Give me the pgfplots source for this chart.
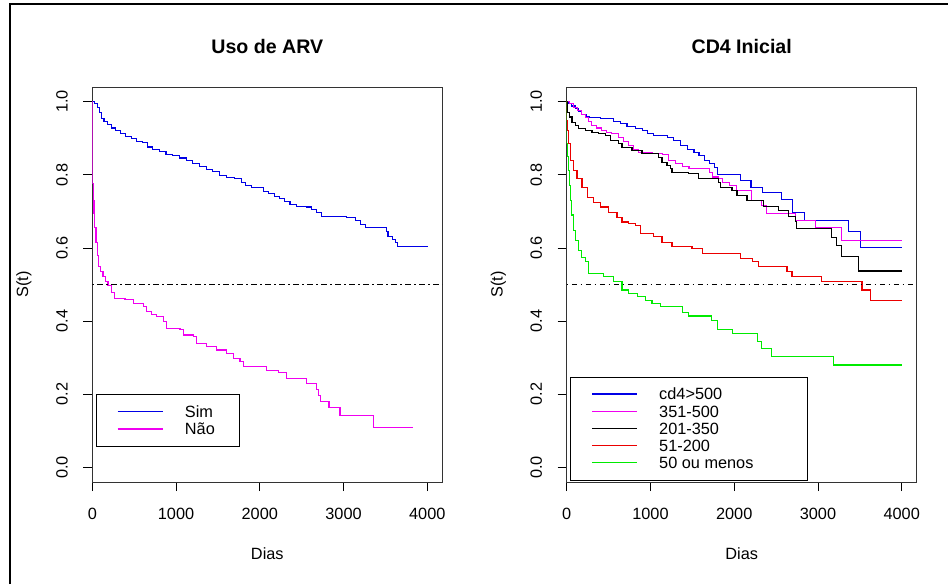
\documentclass[border=0pt]{standalone}
\usepackage{fontspec}
\setmainfont{Liberation Sans}
\usepackage{pgfplots}
\pgfplotsset{compat=1.18}
\definecolor{kmblue}{RGB}{0,0,230}
\definecolor{kmmag}{RGB}{240,0,240}
\definecolor{kmgreen}{RGB}{0,235,0}
\definecolor{kmred}{RGB}{235,0,0}
\begin{document}
\fontsize{16.3}{19}\selectfont
\begin{tikzpicture}
\useasboundingbox (0,0) rectangle (948pt,584pt);
\draw[line width=2pt] (10pt,0pt) -- (10pt,579.7pt) -- (948pt,579.7pt);
\pgfplotsset{
  kmstyle/.style={
    scale only axis, width=350pt, height=395pt,
    xmin=0, xmax=4179, ymin=-0.04, ymax=1.04,
    xtick={0,1000,2000,3000,4000}, xticklabels={0,1000,2000,3000,4000},
    ytick={0,0.2,0.4,0.6,0.8,1.0}, yticklabels={0.0,0.2,0.4,0.6,0.8,1.0},
    tick align=outside, xtick pos=bottom, ytick pos=left, major tick length=9pt,
    every tick/.style={black, line width=0.8pt},
    axis line style={black!80, line width=0.9pt},
    yticklabel style={rotate=90, anchor=base, inner sep=0pt, yshift=15.8pt},
    xticklabel style={anchor=north, inner sep=0pt, yshift=-17pt},
    tick label style={font=\fontsize{16.3}{19}\selectfont},
    label style={font=\fontsize{16.3}{19}\selectfont},
    title style={font=\bfseries\fontsize{19.6}{22}\selectfont, at={(axis description cs:0.5,1)}, anchor=base, yshift=27pt},
    xlabel style={at={(axis description cs:0.5,0)}, anchor=base, yshift=-77pt},
    ylabel style={at={(axis description cs:0,0.5)}, anchor=base, yshift=64.2pt},
    xlabel={Dias}, ylabel={S(t)},
    legend cell align=left,
    legend image code/.code={\draw[#1, line width=1.2pt] (0pt,0pt) -- (45pt,0pt);},
    legend style={draw=black, line width=0.9pt, inner xsep=21pt, inner ysep=8.5pt, column sep=21.6pt,
      font=\fontsize{16.3}{19}\selectfont, nodes={text height=14.5pt, text depth=2.7pt, inner sep=0pt}},
    const plot,
  },
}
\begin{axis}[kmstyle, at={(92.3pt,102pt)}, anchor=south west, title={Uso de ARV},
  legend style={at={(rel axis cs:0.0097,0.222)}, anchor=north west}]
\addplot[kmblue, line width=1.1pt] coordinates {
(0,1.0) (30,0.995) (60,0.985) (90,0.97) (110,0.955) (140,0.945) (180,0.938) (230,0.928)
(280,0.922) (340,0.913) (400,0.905) (470,0.898) (530,0.892) (600,0.889) (660,0.876)
(720,0.870) (800,0.864) (880,0.856) (960,0.852) (1040,0.846) (1120,0.838) (1200,0.832)
(1280,0.823) (1360,0.815) (1440,0.808) (1520,0.798) (1600,0.793) (1700,0.791) (1780,0.780)
(1830,0.770) (1900,0.766) (1980,0.764) (2040,0.754) (2100,0.749) (2180,0.740) (2240,0.734)
(2300,0.726) (2360,0.718) (2440,0.714) (2560,0.712) (2620,0.705) (2680,0.697) (2740,0.686)
(3040,0.683) (3140,0.674) (3200,0.665) (3260,0.655) (3510,0.645) (3530,0.632) (3580,0.622)
(3620,0.614) (3640,0.605) (4008,0.605)};
\addlegendentry{\makebox[34pt][l]{Sim}}
\addplot[kmmag, line width=1.1pt] coordinates {
(0,1.0) (2,0.776) (10,0.73) (20,0.694) (30,0.655) (44,0.616) (60,0.58) (76,0.548)
(100,0.535) (128,0.521) (160,0.508) (187,0.498) (230,0.478) (267,0.462) (390,0.458)
(490,0.448) (609,0.441) (649,0.425) (710,0.418) (769,0.412) (848,0.398) (888,0.380)
(1047,0.376) (1087,0.362) (1206,0.357) (1246,0.339) (1366,0.330) (1485,0.321) (1605,0.312)
(1684,0.298) (1764,0.289) (1803,0.277) (2082,0.266) (2221,0.259) (2321,0.244) (2560,0.230)
(2680,0.212) (2699,0.196) (2727,0.180) (2826,0.164) (2958,0.142) (3355,0.109) (3833,0.109)};
\addlegendentry{\makebox[34pt][l]{Não}}
\addplot[black, line width=0.9pt, dash pattern=on 1.3pt off 3.8pt on 5.1pt off 3.8pt, forget plot] coordinates {(0,0.5) (4179,0.5)};
\end{axis}
\begin{axis}[kmstyle, at={(566.7pt,102pt)}, anchor=south west, title={CD4 Inicial},
  legend style={at={(rel axis cs:0.0094,0.267)}, anchor=north west}]
\addplot[kmblue, line width=1.1pt] coordinates {
(0,1.0) (20,0.995) (60,0.988) (100,0.980) (140,0.972) (180,0.965) (230,0.960) (270,0.956)
(400,0.953) (560,0.945) (640,0.940) (720,0.933) (820,0.927) (900,0.920) (960,0.914)
(1040,0.907) (1200,0.903) (1280,0.894) (1360,0.880) (1440,0.870) (1520,0.862) (1580,0.852)
(1640,0.840) (1700,0.832) (1760,0.820) (1800,0.801) (2080,0.785) (2200,0.766) (2340,0.751)
(2560,0.733) (2700,0.698) (2840,0.675) (3360,0.646) (3510,0.600) (4000,0.600)};
\addlegendentry{\makebox[127pt][l]{cd4>500}}
\addplot[kmmag, line width=1.1pt] coordinates {
(0,1.0) (30,0.995) (80,0.985) (130,0.975) (180,0.965) (220,0.957) (260,0.945) (300,0.935)
(360,0.928) (420,0.921) (480,0.916) (540,0.912) (620,0.903) (680,0.892) (740,0.880)
(800,0.870) (860,0.862) (1020,0.857) (1140,0.855) (1220,0.839) (1300,0.830) (1380,0.823)
(1460,0.816) (1700,0.807) (1740,0.794) (1810,0.789) (1860,0.780) (1940,0.770) (2030,0.757)
(2210,0.730) (2330,0.716) (2390,0.695) (2730,0.675) (2970,0.656) (3285,0.621) (4000,0.621)};
\addlegendentry{\makebox[127pt][l]{351-500}}
\addplot[black, line width=1.1pt] coordinates {
(0,1.0) (3,0.971) (30,0.958) (63,0.944) (100,0.935) (143,0.926) (223,0.921) (302,0.916)
(380,0.912) (461,0.907) (521,0.894) (621,0.885) (660,0.875) (780,0.866) (899,0.857)
(1098,0.848) (1138,0.834) (1198,0.825) (1237,0.816) (1257,0.807) (1457,0.803) (1576,0.789)
(1815,0.780) (1834,0.766) (1974,0.757) (2033,0.744) (2153,0.730) (2352,0.714) (2531,0.703)
(2650,0.687) (2728,0.673) (2748,0.652) (3166,0.629) (3226,0.607) (3286,0.577) (3480,0.537)
(4000,0.537)};
\addlegendentry{\makebox[127pt][l]{201-350}}
\addplot[kmred, line width=1.1pt] coordinates {
(0,1.0) (2,0.948) (12,0.92) (24,0.885) (44,0.839) (84,0.812) (123,0.789) (183,0.766)
(243,0.739) (322,0.725) (402,0.712) (501,0.698) (601,0.684) (660,0.671) (740,0.666)
(819,0.662) (879,0.639) (1038,0.632) (1138,0.616) (1257,0.605) (1496,0.598) (1616,0.585)
(2073,0.571) (2213,0.562) (2293,0.550) (2630,0.535) (2690,0.523) (3040,0.507) (3526,0.485)
(3625,0.457) (4000,0.457)};
\addlegendentry{\makebox[127pt][l]{51-200}}
\addplot[kmgreen, line width=1.1pt] coordinates {
(0,1.0) (2,0.885) (12,0.85) (24,0.812) (34,0.77) (44,0.730) (60,0.69) (84,0.648)
(110,0.62) (143,0.594) (180,0.575) (223,0.562) (263,0.530) (442,0.521) (561,0.507)
(660,0.485) (740,0.476) (840,0.466) (939,0.457) (1019,0.448) (1118,0.439) (1385,0.423)
(1457,0.414) (1727,0.401) (1803,0.376) (1980,0.365) (2280,0.344) (2330,0.326) (2445,0.303)
(3186,0.280) (4000,0.280)};
\addlegendentry{\makebox[127pt][l]{50 ou menos}}
\addplot[black, line width=0.9pt, dash pattern=on 1.3pt off 3.8pt on 5.1pt off 3.8pt, forget plot] coordinates {(0,0.5) (4179,0.5)};
\end{axis}
\end{tikzpicture}
\end{document}
